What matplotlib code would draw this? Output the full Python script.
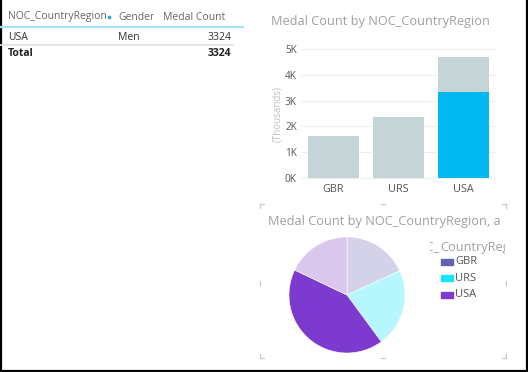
"""
plot.py: Power BI style report page - medal count table, bar chart and pie.
"""

import matplotlib.pyplot as plt
from matplotlib.patches import Rectangle

W, H = 528, 372
plt.rcParams['font.family'] = ['Open Sans', 'DejaVu Sans']

# table
table_header = ['NOC_CountryRegion', 'Gender', 'Medal Count']
table_row = ['USA', 'Men', '3324']
table_total = ['Total', '', '3324']

# bar chart
countries = ['GBR', 'URS', 'USA']
bar_totals = [1630, 2370, 4690]
bar_highlight = [0, 0, 3324]
y_ticks = [0, 1000, 2000, 3000, 4000, 5000]
y_tick_labels = ['0K', '1K', '2K', '3K', '4K', '5K']

# pie (USA split into highlighted and faded part)
pie_labels = ['GBR', 'URS', 'USA', 'USA']
pie_values = [1434, 1712, 3324, 1412]
pie_colors = ['#D3D2E8', '#B6F7FE', '#7D3ACE', '#D9C7EE']
legend_labels = ['GBR', 'URS', 'USA']
legend_colors = ['#6361B4', '#16E5F7', '#7D3BCF']

FAINT = '#C5D5D7'
HIGHLIGHT = '#01B9F1'


def px(x0, y0, x1, y1):
    """Pixel box (top-left origin) -> figure fraction rect."""
    return [x0 / W, 1 - y1 / H, (x1 - x0) / W, (y1 - y0) / H]


fig = plt.figure(figsize=(W / 100, H / 100), dpi=100)
fig.patch.set_facecolor('white')

# background axes in pixel coordinates for free text and lines
bg = fig.add_axes([0, 0, 1, 1])
bg.set_xlim(0, W)
bg.set_ylim(H, 0)
bg.axis('off')

# outer frame
bg.plot([0.8, 0.8], [0, H], color='black', lw=1.6)
bg.plot([0, W], [370.5, 370.5], color='black', lw=1.6)
bg.plot([526.5, 526.5], [0, H], color='black', lw=1.6)

# ---- table ----
fs_tab = 7.5
col_x = [8, 118, 231]
bg.text(col_x[0], 17, table_header[0], color='#666666', fontsize=fs_tab, va='center')
bg.plot([109], [17], marker='o', ms=1.8, color='#3DA9D6')
bg.text(col_x[1], 17, table_header[1], color='#666666', fontsize=fs_tab, va='center')
bg.text(163, 17, table_header[2], color='#666666', fontsize=fs_tab, va='center')
bg.plot([0, 243], [27, 27], color='#A6E3F6', lw=1.6)

bg.text(col_x[0], 37, table_row[0], color='#333333', fontsize=fs_tab, va='center')
bg.text(col_x[1], 37, table_row[1], color='#333333', fontsize=fs_tab, va='center')
bg.text(col_x[2], 37, table_row[2], color='#333333', fontsize=fs_tab, va='center', ha='right')
bg.plot([0, 233], [45, 45], color='#E2E2E2', lw=1.2)

bg.text(col_x[0], 54, table_total[0], color='#222222', fontsize=fs_tab, va='center',
        weight='bold')
bg.text(col_x[2], 54, table_total[2], color='#222222', fontsize=fs_tab, va='center', ha='right',
        weight='bold')

# ---- bar chart ----
bg.text(271, 22, 'Medal Count by NOC_CountryRegion', color='#A0A0A0', fontsize=9.2, va='center')
bg.text(278, 114, '(Thousands)', color='#C0C0C0', fontsize=7, va='center', ha='center',
        rotation=90)

ax = fig.add_axes(px(301, 49, 496, 178))
x = range(len(countries))
ax.bar(x, bar_totals, width=0.78, color=FAINT, zorder=2)
ax.bar(x, bar_highlight, width=0.78, color=HIGHLIGHT, zorder=3)
ax.set_xlim(-0.5, len(countries) - 0.5)
ax.set_ylim(0, 5000)
ax.set_yticks(y_ticks)
ax.set_yticklabels(y_tick_labels, color='#555555', fontsize=7.2)
ax.set_xticks(list(x))
ax.set_xticklabels(countries, color='#555555', fontsize=7.8)
ax.tick_params(axis='both', length=0)
ax.tick_params(axis='y', pad=3)
ax.tick_params(axis='x', pad=4)
for s in ax.spines.values():
    s.set_visible(False)
ax.set_facecolor('none')
for t in y_ticks:
    ax.axhline(t, color='#EEEEEE', lw=0.8, zorder=0, clip_on=False)

# ---- pie visual ----
title_ax = fig.add_axes(px(258, 210, 500, 235))
title_ax.set_xlim(258, 500)
title_ax.set_ylim(235, 210)
title_ax.axis('off')
title_ax.text(268, 222, 'Medal Count by NOC_CountryRegion, and Gender', color='#A0A0A0',
              fontsize=9.2, va='center', clip_on=True)

pie_ax = fig.add_axes(px(289, 237, 405, 353))
pie_ax.pie(pie_values, colors=pie_colors, startangle=90, counterclock=False,
           wedgeprops=dict(edgecolor='white', linewidth=0.4))
pie_ax.set_xlim(-1.0, 1.0)
pie_ax.set_ylim(-1.0, 1.0)
pie_ax.set_aspect('equal')

# legend
leg_ax = fig.add_axes(px(430, 238, 505, 256))
leg_ax.set_xlim(430, 505)
leg_ax.set_ylim(256, 238)
leg_ax.axis('off')
leg_ax.text(440, 247, 'NOC_', color='#A0A0A0', fontsize=9.2, va='center', ha='right',
            clip_on=True)
leg_ax.text(440, 247, 'CountryRegion', color='#A0A0A0', fontsize=9.2, va='center',
            clip_on=True)

for i, (lab, col) in enumerate(zip(legend_labels, legend_colors)):
    yy = 262 + i * 16.3
    bg.add_patch(Rectangle((441, yy - 3), 12, 6, color=col))
    bg.text(455, yy, lab, color='#555555', fontsize=8, va='center')

# selection brackets round the pie visual
bc = '#C8C8C8'
L, R, T, B = 260, 506, 204, 358
arm = 4
for cx, dx in ((L, arm), (R, -arm)):
    for cy, dy in ((T, arm), (B, -arm)):
        bg.plot([cx, cx + dx], [cy, cy], color=bc, lw=0.9)
        bg.plot([cx, cx], [cy, cy + dy], color=bc, lw=0.9)
mid_x = (L + R) / 2
mid_y = 283
bg.plot([mid_x - 2, mid_x + 2], [T, T], color=bc, lw=0.9)
bg.plot([mid_x - 2, mid_x + 2], [B, B], color=bc, lw=0.9)
bg.plot([L, L], [mid_y - 2, mid_y + 2], color=bc, lw=0.9)
bg.plot([R, R], [mid_y - 2, mid_y + 2], color=bc, lw=0.9)

fig.savefig('out.png', dpi=100, facecolor='white')
